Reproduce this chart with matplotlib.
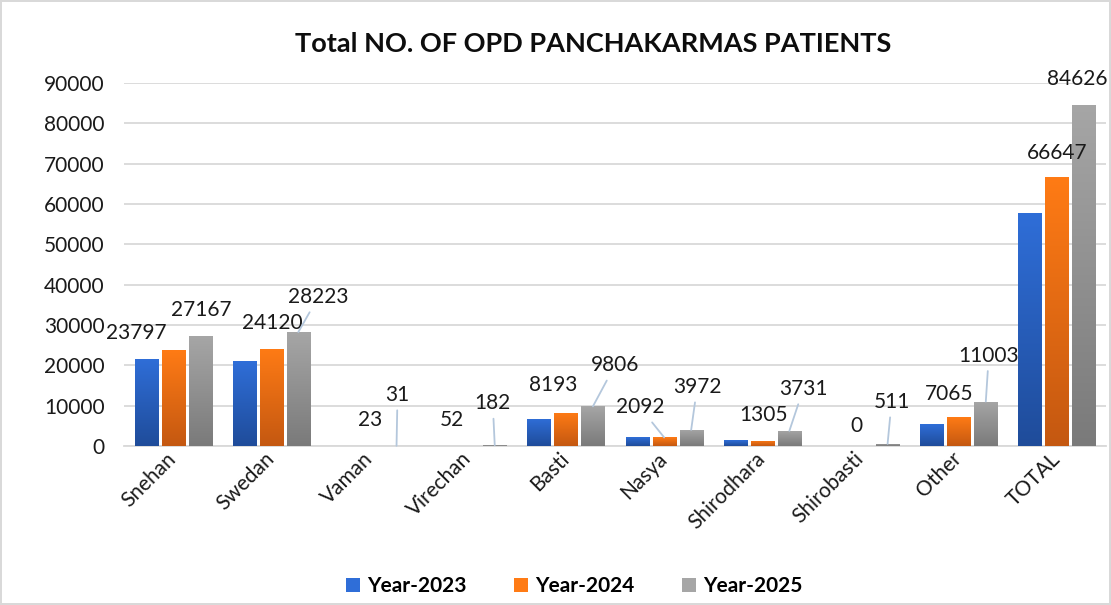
import numpy as np
import matplotlib
matplotlib.use('Agg')
import matplotlib.pyplot as plt
from matplotlib.patches import Patch

plt.rcParams['font.family'] = ['Lato', 'DejaVu Sans']

categories = ['Snehan', 'Swedan', 'Vaman', 'Virechan', 'Basti', 'Nasya',
              'Shirodhara', 'Shirobasti', 'Other', 'TOTAL']
year_2023 = [21600, 21000, 18, 40, 6700, 2200, 1480, 0, 5450, 57800]
year_2024 = [23797, 24120, 23, 52, 8193, 2092, 1305, 0, 7065, 66647]
year_2025 = [27167, 28223, 31, 182, 9806, 3972, 3731, 511, 11003, 84626]
series_names = ['Year-2023', 'Year-2024', 'Year-2025']
yticks = [0, 10000, 20000, 30000, 40000, 50000, 60000, 70000, 80000, 90000]

# gradient (top colour, bottom colour) per series
grads = [('#2F6ED8', '#1F4C9A'), ('#FF7B15', '#C45811'), ('#A6A6A6', '#7A7A7A')]

# label offsets in pixels (dx, dy) from bar top, and whether a leader line is drawn
off_2024 = [(-37, 17, False), (1, 26, False), (1, 26, False), (-16, 26, False),
            (-13, 28, False), (-24, 30, True), (1, 26, False), (-4, 20, False),
            (-10, 23, False), (0, 24, False)]
off_2025 = [(1, 26, False), (20, 35, True), (1, 51, True), (-2, 42, True),
            (22, 41, True), (6, 43, True), (14, 42, True), (4, 42, True),
            (3, 46, True), (-7, 26, False)]

fig = plt.figure(figsize=(11.11, 6.05), dpi=100)
fig.patch.set_edgecolor('#D9D9D9')
fig.patch.set_linewidth(1.5)
ax = fig.add_axes([0.1116, 0.263, 0.884, 0.600])

x = np.arange(len(categories))
w = 0.235
step = 0.275
data = [year_2023, year_2024, year_2025]

ax.set_xlim(-0.5, len(categories) - 0.5)
ax.set_ylim(0, 90000)

grad_img = np.linspace(1, 0, 256).reshape(-1, 1)
for i, vals in enumerate(data):
    top_c = np.array(matplotlib.colors.to_rgb(grads[i][0]))
    bot_c = np.array(matplotlib.colors.to_rgb(grads[i][1]))
    bars = ax.bar(x + (i - 1) * step, vals, width=w, color='none', zorder=3)
    for b in bars:
        h = b.get_height()
        if h <= 0:
            continue
        x0 = b.get_x()
        rgb = bot_c + (top_c - bot_c) * grad_img[..., None]
        rgb = rgb.reshape(256, 1, 3)
        im = ax.imshow(rgb, extent=[x0, x0 + w, 0, h], aspect='auto',
                       origin='upper', zorder=3, interpolation='bilinear')
        im.set_clip_path(b)

ax.set_xlim(-0.5, len(categories) - 0.5)
ax.set_ylim(0, 90000)

def label(vals, offs, pos):
    for j, v in enumerate(vals):
        dx, dy, lead = offs[j]
        xp = x[j] + pos * step
        kw = {}
        if lead:
            kw['arrowprops'] = dict(arrowstyle='-', color='#B4C7DC', lw=1.3,
                                    shrinkA=2, shrinkB=0)
        ax.annotate(str(v), (xp, v), xytext=(dx, dy), textcoords='offset pixels',
                    ha='center', va='center', fontsize=15, color='#1A1A1A',
                    zorder=5, **kw)

label(year_2024, off_2024, 0)
label(year_2025, off_2025, 1)

ax.set_yticks(yticks)
ax.set_yticklabels([str(t) for t in yticks], fontsize=15, color='#1A1A1A')
ax.set_xticks(x)
ax.set_xticklabels(categories, rotation=45, ha='right', va='center',
                   rotation_mode='anchor', fontsize=15, color='#1A1A1A')
ax.tick_params(axis='both', length=0)
ax.tick_params(axis='x', pad=7)
ax.tick_params(axis='y', pad=14)
ax.grid(axis='y', color='#D9D9D9', lw=1.3, zorder=0)
for s in ['top', 'right', 'left']:
    ax.spines[s].set_visible(False)
ax.spines['bottom'].set_color('#D9D9D9')
ax.spines['bottom'].set_linewidth(1.3)

fig.text(0.534, 0.928, 'Total NO. OF OPD PANCHAKARMAS PATIENTS', ha='center',
         va='center', fontsize=19.5, fontweight='bold', color='#0D0D0D')

handles = [Patch(facecolor=grads[i][0], edgecolor='none') for i in range(3)]
leg = fig.legend(handles, series_names, loc='center', bbox_to_anchor=(0.517, 0.031),
                 ncol=3, frameon=False, prop={'size': 15, 'weight': 'bold'},
                 handlelength=0.65, handleheight=0.65, handletextpad=0.35,
                 columnspacing=2.3)

fig.savefig('out.png', dpi=100)
